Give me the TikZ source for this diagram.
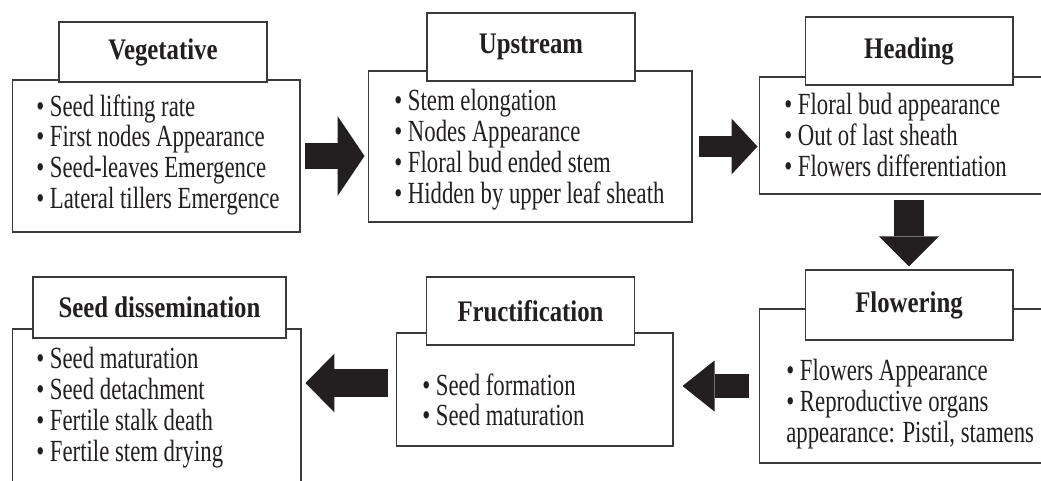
\documentclass[tikz,border=0pt]{standalone}
\usepackage{fontspec}
\setmainfont{Liberation Serif}[FakeStretch=0.74]
\newfontfamily\ttlfont{Liberation Serif}[FakeStretch=0.83]
\usetikzlibrary{arrows.meta}
\definecolor{ink}{HTML}{231F20}
\definecolor{rule}{HTML}{3A3A3A}

\begin{document}
\begin{tikzpicture}[x=0.02cm,y=-0.02cm,
  panel/.style={draw=rule, fill=white, line width=0.6pt},
  stage/.style={draw=rule, fill=white, line width=0.6pt, minimum width=4.16cm, minimum height=1.36cm, inner sep=0pt, font=\fontsize{17pt}{19pt}\ttlfont\bfseries, text=ink},
  items/.style={anchor=north west, inner sep=0pt, align=left, font=\fontsize{17.5pt}{17.64pt}\selectfont, text=ink},
  blockarrow/.style n args={3}{draw=ink, line width=#1, -{Triangle[length=#2, width=#3, line width=0pt]}}]
  \useasboundingbox (0,0) rectangle (1041,480);
  \clip (0,0) rectangle (1041,480);
  % content boxes
  \node[panel, minimum width=5.76cm, minimum height=3.04cm] (veg) at (156,156) {};
  \node[panel, minimum width=6.48cm, minimum height=3.02cm] (up) at (530,146.5) {};
  \node[panel, minimum width=5.98cm, minimum height=2.34cm] (head) at (908.5,135.5) {};
  \node[panel, minimum width=5.98cm, minimum height=3.08cm] (flow) at (908.5,386) {};
  \node[panel, minimum width=5.54cm, minimum height=2.26cm] (fruct) at (534.5,389.5) {};
  \node[panel, minimum width=5.78cm, minimum height=3.42cm] (seed) at (156.5,414.5) {};
  % stage titles
  \node[stage, minimum height=1.2cm] (vegttl) at (163,52) {Vegetative};
  \node[stage] (upttl) at (531,47) {Upstream};
  \node[stage] (headttl) at (909,51) {Heading};
  \node[stage, minimum height=1.4cm] (flowttl) at (909,305) {Flowering};
  \node[stage] (fructttl) at (530.5,311) {Fructification};
  \node[stage, minimum width=5.06cm, minimum height=1.22cm] (seedttl) at (159.5,307.5) {Seed dissemination};
  % lists
  \node[items] (vegtxt) at (36,94) {\textbullet{} Seed lifting rate\\ \textbullet{} First nodes Appearance\\ \textbullet{} Seed-leaves Emergence\\ \textbullet{} Lateral tillers Emergence};
  \node[items] (uptxt) at (394,89) {\textbullet{} Stem elongation\\ \textbullet{} Nodes Appearance\\ \textbullet{} Floral bud ended stem\\ \textbullet{} Hidden by upper leaf sheath};
  \node[items] (headtxt) at (784,93) {\textbullet{} Floral bud appearance\\ \textbullet{} Out of last sheath\\ \textbullet{} Flowers differentiation};
  \node[items] (flowtxt) at (786,359) {\textbullet{} Flowers Appearance\\ \textbullet{} Reproductive organs\\ appearance: Pistil, stamens};
  \node[items] (fructtxt) at (422,373) {\textbullet{} Seed formation\\ \textbullet{} Seed maturation};
  \node[items] (seedtxt) at (36,347) {\textbullet{} Seed maturation\\ \textbullet{} Seed detachment\\ \textbullet{} Fertile stalk death\\ \textbullet{} Fertile stem drying};
  % arrows
  \draw[blockarrow={0.52cm}{0.54cm}{1.6cm}, shorten <=0.08cm, shorten >=0.06cm] (veg.east) -- (veg.east -| up.west);
  \draw[blockarrow={0.42cm}{0.52cm}{1.12cm}, shorten <=0.12cm, shorten >=0.02cm] (up.east) -- (up.east -| head.west);
  \draw[blockarrow={0.6cm}{0.6cm}{1.2cm}, shorten <=0.1cm, shorten >=0.06cm] (flowttl.north |- head.south) -- (flowttl.north);
  \draw[blockarrow={0.48cm}{0.64cm}{1.02cm}, shorten <=0.2cm, shorten >=0.18cm] (flow.west) -- (flow.west -| fruct.east);
  \draw[blockarrow={0.56cm}{0.58cm}{1.18cm}, shorten <=0.16cm, shorten >=0.08cm] ([yshift=0.13cm]fruct.west) -- ([yshift=0.13cm]fruct.west -| seed.east);
\end{tikzpicture}
\end{document}
